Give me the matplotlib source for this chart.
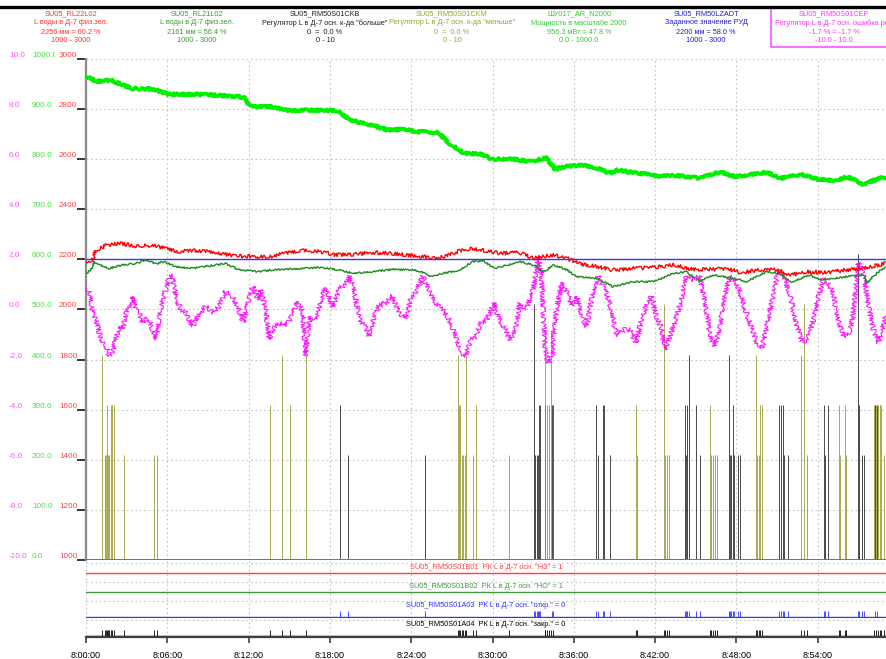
import matplotlib.pyplot as plt
import matplotlib.transforms as mtransforms
from matplotlib.lines import Line2D
from matplotlib.patches import Rectangle
from matplotlib.ticker import FuncFormatter, MultipleLocator

plt.rcParams["font.family"] = ["Liberation Sans", "DejaVu Sans"]

# ================================
# %% Trend data (time in minutes after 8:00:00)
# ++++++++++++++++++++++++++++++++

t_end = 59.04

# ШУ017_AR_N2000, power [MW]
power_t = [0, 0.38, 0.75, 1.89, 2.26, 3.4, 4.9, 6.04, 8.7, 11.3, 11.7, 12.1, 13.6, 14.9,
           16.2, 18.5, 19.6, 20.8, 22.3, 23.4, 24.5, 26.0, 26.8, 27.9, 29.1, 30.0, 31.3,
           32.8, 34.0, 34.6, 35.5, 36.8, 37.7, 38.7, 39.2, 40.8, 42.3, 43.4, 45.3, 46.8,
           47.9, 50.2, 51.3, 52.8, 54.0, 55.3, 56.2, 57.4, 58.5, 59.2]
power_v = [965, 961, 955, 958, 953, 941, 940, 930, 929, 925, 922, 905, 905, 897,
           898, 897, 877, 870, 858, 860, 855, 853, 832, 812, 810, 800, 801,
           795, 803, 780, 786, 788, 782, 772, 778, 772, 766, 768, 762, 775,
           765, 774, 762, 770, 760, 757, 765, 749, 762, 764]

# SU05_RL22L02, level [mm]
lvl22_t = [0, 0.49, 0.74, 1.48, 2.46, 3.69, 4.92, 5.9, 6.9, 7.87, 9.35, 10.3, 11.3, 12.8,
           13.8, 14.8, 16.0, 17.2, 18.45, 19.7, 21.2, 22.6, 23.6, 24.6, 25.8, 26.6, 27.6,
           28.5, 29.5, 30.6, 32.0, 33.0, 34.5, 35.5, 36.5, 37.7, 38.9, 40.4, 41.9, 43.35,
           44.8, 46.3, 47.3, 48.3, 49.5, 50.7, 52.0, 53.2, 54.7, 56.1, 57.4, 59.0]
lvl22_v = [2191, 2198, 2236, 2256, 2264, 2253, 2256, 2244, 2231, 2236, 2231, 2220, 2213, 2211,
           2213, 2227, 2235, 2231, 2218, 2220, 2227, 2224, 2218, 2213, 2204, 2213, 2235,
           2244, 2235, 2224, 2227, 2204, 2218, 2204, 2182, 2171, 2158, 2164, 2168, 2178,
           2160, 2160, 2164, 2147, 2158, 2160, 2138, 2151, 2147, 2158, 2164, 2184]

# SU05_RL21L02, level [mm]
lvl21_t = [0, 0.37, 0.61, 0.98, 1.72, 2.7, 3.69, 4.43, 5.17, 5.78, 6.64, 7.87, 9.1, 10.3,
           11.3, 12.8, 13.8, 14.8, 16.0, 17.2, 18.7, 19.7, 21.2, 22.6, 24.1, 24.8, 25.3,
           26.6, 27.6, 28.5, 29.3, 30.1, 31.1, 32.0, 33.0, 33.8, 34.5, 35.5, 36.2, 37.7,
           38.9, 40.4, 41.9, 43.35, 44.3, 45.3, 46.3, 47.8, 48.75, 50.2, 51.2, 52.0, 53.4,
           54.2, 55.2, 56.1, 57.4, 57.6, 58.6, 59.0]
lvl21_v = [2144, 2158, 2191, 2178, 2164, 2178, 2184, 2198, 2182, 2191, 2171, 2164, 2174, 2184,
           2158, 2151, 2158, 2160, 2164, 2168, 2158, 2144, 2151, 2160, 2158, 2151, 2131,
           2147, 2158, 2191, 2195, 2164, 2178, 2191, 2178, 2151, 2178, 2158, 2131, 2124,
           2091, 2111, 2111, 2144, 2151, 2111, 2138, 2124, 2111, 2151, 2144, 2108, 2138,
           2118, 2124, 2131, 2138, 2104, 2158, 2167]

# SU05_RM50LZADT, level setpoint [mm]
setpoint_t = [0, t_end]
setpoint_v = [2200, 2200]

# SU05_RM50S01CEP, control error [%]
err_t = [0, 0.25, 0.49, 0.74, 0.98, 1.23, 1.48, 1.72, 1.97, 2.21, 2.46, 2.7, 2.95, 3.2,
         3.44, 3.69, 3.94, 4.18, 4.43, 4.67, 4.92, 5.17, 5.41, 5.66, 5.9, 6.15, 6.4,
         6.64, 7.01, 7.38, 7.87, 8.36, 8.86, 9.35, 9.84, 10.3, 10.8, 11.2, 11.6, 11.9,
         12.3, 12.7, 12.9, 13.3, 13.5, 13.9, 14.3, 14.8, 15.3, 15.6, 16.0, 16.2, 16.5,
         17.0, 17.5, 17.7, 18.2, 18.7, 19.2, 19.4, 19.7, 20.2, 20.7, 20.9, 21.2, 21.6,
         22.1, 22.6, 23.1, 23.6, 24.0, 24.35, 24.85, 25.3, 25.8, 26.3, 26.8, 27.3, 27.7,
         28.0, 28.4, 28.8, 29.15, 29.6, 30.1, 30.4, 30.8, 31.3, 31.7, 32.0, 32.5, 33.0,
         33.4, 33.6, 33.9, 34.1, 34.4, 34.7, 35.1, 35.5, 35.85, 36.2, 36.6, 36.95, 37.4,
         37.8, 38.3, 38.7, 39.2, 39.7, 40.15, 40.6, 41.0, 41.4, 41.75, 42.1, 42.5, 42.7,
         43.1, 43.6, 44.0, 44.3, 44.8, 45.3, 45.7, 46.05, 46.4, 46.8, 47.2, 47.5, 48.0,
         48.5, 49.0, 49.5, 49.9, 50.2, 50.7, 51.1, 51.5, 52.0, 52.45, 52.9, 53.3, 53.7,
         54.0, 54.4, 54.8, 55.2, 55.5, 55.9, 56.3, 56.6, 57.0, 57.4, 57.75, 58.1, 58.5,
         58.7, 59.0]
err_v = [0.93, 0.67, -0.13, -0.4, -0.93, -1.33, -1.47, -1.86, -1.73, -1.07, -0.67, -0.8, -0.13, 0.13,
         0.53, 0.0, -0.13, -0.53, -0.33, -0.4, -0.8, -1.2, -0.4, 0.4, 0.8, 1.27, 1.33,
         0.4, 0.0, -0.13, -0.67, -0.13, 0.13, -0.13, 0.13, 0.73, 0.53, 0.13, -0.53, 0.13,
         0.93, 0.4, 0.8, -0.13, -1.2, -0.67, -0.53, -0.67, -0.13, 0.33, -0.13, -1.86, -0.27,
         -0.4, 0.67, 0.87, 0.13, 0.8, 1.07, 1.33, 0.93, -0.4, -0.8, -1.07, -0.4, 0.13,
         0.27, 0.53, -0.13, -0.4, 0.53, 0.67, 1.33, 0.8, 0.27, 0.0, -0.4, -1.07, -1.73,
         -1.86, -1.2, -1.07, -0.53, -0.4, 0.27, -0.27, -0.67, -1.2, -0.8, 0.27, 0.0, 0.8,
         2.13, 1.33, -1.6, -2.13, -1.86, -0.13, 1.07, 0.67, 0.13, 0.53, -0.27, -0.67, 0.67,
         1.33, 0.8, 0.13, -1.07, -0.8, -0.8, -1.33, -0.4, 0.27, 0.53, -0.27, -0.8, -1.6,
         -1.07, -0.27, 0.53, 1.33, 1.2, 1.33, 0.27, -1.07, -1.47, -0.67, 0.67, 1.33, 1.07,
         0.27, -0.53, -1.33, -1.53, -0.8, 0.53, 1.6, 1.33, 0.53, -0.67, -1.33, -1.07, -0.4,
         0.4, 1.2, 1.07, 0.53, -0.4, -1.07, -0.93, -0.27, 1.87, 1.33, 0.13, -0.8, -1.33,
         -0.93, -0.27]

# SU05_RM50S01CKB, "больше" command pulses
more_t = [18.72, 19.34, 25.04, 33.04, 33.16, 33.26, 33.34, 33.40, 33.50, 34.37, 34.49,
          37.64, 37.76, 38.13, 38.25, 38.65, 44.20, 44.30, 44.36, 44.52, 45.04, 45.31,
          47.45, 47.50, 47.62, 47.73, 47.85, 48.10, 48.24, 51.17, 51.30, 51.42, 51.53,
          51.78, 54.44, 54.52, 54.76, 57.00, 57.07, 57.27, 57.44, 58.20, 58.40]
more_v = [3.1, 2.1, 2.1, 5.1, 2.1, 2.1, 2.1, 3.1, 3.1, 3.1, 3.1,
          3.1, 2.1, 3.1, 3.1, 2.1, 3.1, 2.1, 3.1, 4.1, 3.1, 2.1,
          4.1, 2.1, 2.1, 3.1, 2.1, 2.1, 2.1, 3.1, 3.1, 3.1, 2.1,
          2.1, 3.1, 2.1, 3.1, 6.1, 3.1, 2.1, 2.1, 3.1, 3.1]

# SU05_RM50S01CKM, "меньше" command pulses
less_t = [1.16, 1.39, 1.46, 1.53, 1.61, 1.68, 1.82, 1.92, 2.04, 2.80, 5.04, 5.24,
          13.56, 14.44, 15.08, 16.21, 27.43, 27.50, 27.62, 27.75, 27.85, 27.96, 28.04,
          28.54, 28.76, 31.20, 33.85, 33.90, 34.00, 34.15, 34.30, 34.45, 40.57, 40.64,
          42.63, 42.70, 42.85, 43.02, 46.07, 46.15, 46.30, 46.44, 46.57, 49.42, 49.50,
          49.65, 49.75, 49.89, 52.74, 53.00, 53.19, 55.57, 55.67, 56.00, 56.10, 58.18,
          58.30, 58.45, 58.58, 58.67, 58.92]
less_v = [4.1, 2.1, 2.1, 3.1, 2.1, 2.1, 3.1, 3.1, 3.1, 2.1, 2.1, 2.1,
          3.1, 4.1, 3.1, 4.1, 4.1, 3.1, 3.1, 2.1, 2.1, 2.1, 4.1,
          2.1, 3.1, 2.1, 3.1, 4.6, 3.1, 3.1, 4.6, 3.1, 3.1, 2.1,
          5.1, 2.1, 2.1, 2.1, 3.1, 2.1, 2.1, 2.1, 2.1, 4.1, 2.1,
          2.1, 3.1, 3.1, 4.1, 5.1, 2.1, 3.1, 2.1, 3.1, 2.1, 3.1,
          3.1, 3.1, 3.1, 3.1, 2.1]

# discrete signals in the strips below the trend
strip_labels = ['SU05_RM50S01B01  РК L в Д-7 осн. "НЗ" = 1',
                'SU05_RM50S01B02  РК L в Д-7 осн. "НО" = 1',
                'SU05_RM50S01A03  РК L в Д-7 осн. "откр." = 0',
                'SU05_RM50S01A04  РК L в Д-7 осн. "закр." = 0']
strip_levels = [1, 1, 0, 0]
strip_pulses = [[], [], more_t, less_t]

# header legend
tags = ["SU05_RL22L02", "SU05_RL21L02", "SU05_RM50S01CKB", "SU05_RM50S01CKM",
        "ШУ017_AR_N2000", "SU05_RM50LZADT", "SU05_RM50S01CEP"]
names = ["L воды в Д-7 физ.зел.", "L воды в Д-7 физ.зел.",
         'Регулятор L в Д-7 осн. к-да "больше"', 'Регулятор L в Д-7 осн. к-да "меньше"',
         "Мощность в масштабе 2000", "Заданное значение РУД",
         "Регулятор L в Д-7 осн. ошибка рег."]
values = ["2256 мм = 60.2 %", "2161 мм = 56.4 %", "0  =  0.0 %", "0  =  0.0 %",
          "956.3 мВт = 47.8 %", "2200 мм = 58.0 %", "-1.7 % = -1.7 %"]
ranges = ["1000 - 3000", "1000 - 3000", "0 - 10", "0 - 10",
          "0.0 - 1000.0", "1000 - 3000", "-10.0 - 10.0"]

err_ticks = [10.0, 8.0, 6.0, 4.0, 2.0, 0.0, -2.0, -4.0, -6.0, -8.0, -10.0]
power_ticks = [1000, 900, 800, 700, 600, 500, 400, 300, 200, 100, 0]
level_ticks = [3000, 2800, 2600, 2400, 2200, 2000, 1800, 1600, 1400, 1200, 1000]

# ================================
# %% Figure layout (pixel based)
# ++++++++++++++++++++++++++++++++

W, H = 886, 659
fig = plt.figure(figsize=(W / 100, H / 100), dpi=100)


def px_box(x0, y0, x1, y1):
    return [x0 / W, 1 - y1 / H, (x1 - x0) / W, (y1 - y0) / H]


grid_kw = dict(color="#c4c4c4", lw=0.8, ls=(0, (1.5, 2.5)))
tick_fmt = FuncFormatter(lambda m, _: f"8:{int(round(m)):02d}:00")

c_red, c_dgreen, c_lime = "#ff0000", "#1e8c1e", "#00f000"
c_blue, c_mag, c_olive = "#3535ff", "#ff00ff", "#808000"

# base axes: command pulses 0-10, carries grid and left ticks
ax_k = fig.add_axes(px_box(86, 59, 886, 560))
ax_k.set_xlim(0, t_end)
ax_k.set_ylim(0, 10)
ax_k.xaxis.set_major_locator(MultipleLocator(6))
ax_k.yaxis.set_major_locator(MultipleLocator(1))
ax_k.grid(True, **grid_kw)
ax_k.tick_params(axis="x", length=0, labelbottom=False)
ax_k.tick_params(axis="y", length=6.5, width=1.1, color="black", labelleft=False)
for s in ("top", "right", "bottom"):
    ax_k.spines[s].set_visible(False)
ax_k.spines["left"].set_color("#8a8a8a")
ax_k.spines["left"].set_linewidth(1.6)

ax_k.axhline(0, color=c_olive, lw=1.4, zorder=3)
ax_k.vlines(more_t, 0, more_v, color="black", lw=0.55, alpha=0.9, zorder=2)
ax_k.vlines(less_t, 0, less_v, color=c_olive, lw=0.55, alpha=0.85, zorder=2)

# error axes -10..10
ax_e = ax_k.twinx()
ax_e.set_ylim(-10, 10)
ax_e.axis("off")
ln, = ax_e.plot(err_t, err_v, color=c_mag, lw=0.8, alpha=0.9)
ln.set_sketch_params(scale=2.5, length=1.5, randomness=4)

# level axes 1000..3000 mm
ax_l = ax_k.twinx()
ax_l.set_ylim(1000, 3000)
ax_l.axis("off")
ln, = ax_l.plot(lvl21_t, lvl21_v, color=c_dgreen, lw=1.0)
ln.set_sketch_params(scale=0.8, length=2.0, randomness=4)
ln, = ax_l.plot(lvl22_t, lvl22_v, color=c_red, lw=1.0)
ln.set_sketch_params(scale=1.8, length=1.5, randomness=4)
ax_l.plot(setpoint_t, setpoint_v, color=c_blue, lw=1.0)

# power axes 0..1000 MW
ax_p = ax_k.twinx()
ax_p.set_ylim(0, 1000)
ax_p.axis("off")
ln, = ax_p.plot(power_t, power_v, color=c_lime, lw=2.6)
ln.set_sketch_params(scale=1.2, length=2.0, randomness=4)

# left scale labels, three columns
label_cols = [(9, ax_e, err_ticks, "{:.1f}", "#ff55ff", None),
              (32, ax_p, power_ticks, "{:.1f}", "#44e044", 54.5),
              (59, ax_l, level_ticks, "{:d}", "#ff4444", 77.5)]
for x0, axis, ticks, fmt, col, clip_x in label_cols:
    trans = mtransforms.blended_transform_factory(fig.transFigure, axis.transData)
    for v in ticks:
        txt = fig.text(x0 / W, v, fmt.format(v), transform=trans, color=col,
                       fontsize=5.9, ha="left", va="bottom")
        if clip_x is not None:
            box = mtransforms.Bbox.from_extents(0, 0, clip_x / W, 1)
            txt.set_clip_box(mtransforms.TransformedBbox(box, fig.transFigure))
            txt.set_clip_on(True)

# ================================
# %% Discrete signal strips
# ++++++++++++++++++++++++++++++++

strip_cols = ["#ff4040", "#3c9c3c", "#3030ff", "black"]
for i, (lab, lev, pulses, col) in enumerate(zip(strip_labels, strip_levels,
                                                strip_pulses, strip_cols)):
    sax = fig.add_axes(px_box(86, 561 + 19 * i, 886, 580 + 19 * i))
    sax.patch.set_visible(False)
    sax.set_xlim(0, t_end)
    sax.set_ylim(-1 / 6.5, 18 / 6.5)
    sax.xaxis.set_major_locator(MultipleLocator(6))
    sax.set_yticks([])
    sax.grid(True, axis="x", **grid_kw)
    sax.axhline(16.5 / 6.5, **grid_kw)
    for s in ("top", "right", "left", "bottom"):
        sax.spines[s].set_visible(False)
    sax.axhline(lev, color=col, lw=1.0)
    if len(pulses):
        sax.vlines(pulses, 0, 1, color=col, lw=0.6)
    sax.text(0.5, 0.68, lab, transform=sax.transAxes, ha="center", va="center",
             color=col, fontsize=5.3)
    if i < 3:
        sax.tick_params(axis="x", length=0, labelbottom=False)
    else:
        sax.spines["bottom"].set_visible(True)
        sax.spines["bottom"].set_color("#404040")
        sax.spines["bottom"].set_linewidth(1.6)
        sax.xaxis.set_major_formatter(tick_fmt)
        sax.tick_params(axis="x", length=4.5, width=1.2, color="#404040",
                        pad=5.5, labelsize=6.5, direction="out")

# ================================
# %% Header legend
# ++++++++++++++++++++++++++++++++

fig.add_artist(Line2D([0, 1], [1 - 6.5 / H] * 2, color="black", lw=2.4,
                      transform=fig.transFigure))

head_x = [71, 197, 325, 452, 579, 706, 834]
head_cols = ["#ff3030", "#3a9a3a", "#202020", "#a0a030", "#33cc33", "#2020c8", "#ff33ff"]
for x, tag, name, val, rng, col in zip(head_x, tags, names, values, ranges, head_cols):
    for k, line in enumerate([tag, name, val, rng]):
        fig.text(x / W, 1 - (14 + 9 * k) / H, line, color=col, fontsize=5.3,
                 ha="center", va="center")

fig.add_artist(Rectangle((771 / W, 1 - 47 / H), 130 / W, 39 / H, fill=False,
                         edgecolor="#ff44ff", lw=1.1, transform=fig.transFigure))

fig.savefig("out.png", dpi=100)
